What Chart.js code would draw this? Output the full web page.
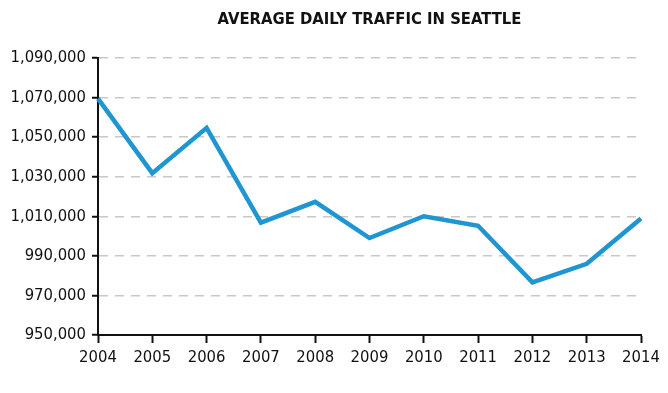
<!DOCTYPE html>
<html>
<head>
<meta charset="utf-8">
<script src="https://cdn.jsdelivr.net/npm/chart.js@4/dist/chart.umd.min.js"></script>
<style>
  html, body { margin: 0; padding: 0; background: #fff; }
  #wrap { width: 668px; height: 393px; position: relative; }
</style>
</head>
<body>
<div id="wrap"><canvas id="trafficChart"></canvas></div>
<script>
// chart data
var chartTitle = "AVERAGE DAILY TRAFFIC IN SEATTLE";
var years = ["2004", "2005", "2006", "2007", "2008", "2009", "2010", "2011", "2012", "2013", "2014"];
var dailyTraffic = [1069500, 1031800, 1054700, 1006800, 1017300, 999000, 1010000, 1005200, 976600, 986000, 1008900];
var yMin = 950000;
var yMax = 1090000;
var yStep = 20000;

var fontFamily = "'DejaVu Sans Condensed', 'Liberation Sans Narrow', 'DejaVu Sans', sans-serif";

//Title drawn centred over the plot area
var titlePlugin = {
  id: "plotTitle",
  afterDraw: function (chart) {
    var ctx = chart.ctx;
    var area = chart.chartArea;
    ctx.save();
    ctx.font = "bold 16.5px " + fontFamily;
    ctx.fillStyle = "#111";
    ctx.textAlign = "center";
    ctx.textBaseline = "middle";
    ctx.fillText(chartTitle, (area.left + area.right) / 2, 20);
    ctx.restore();
  }
};

new Chart(document.getElementById("trafficChart"), {
  type: "line",
  data: {
    labels: years,
    datasets: [{
      label: "Average daily traffic",
      data: dailyTraffic,
      borderColor: "#1f95d2",
      borderWidth: 4.5,
      pointRadius: 0,
      tension: 0,
      fill: false,
      clip: false
    }]
  },
  options: {
    responsive: true,
    maintainAspectRatio: false,
    animation: false,
    layout: {
      padding: { top: 58, right: 27, bottom: 0, left: 0 }
    },
    plugins: {
      legend: { display: false },
      tooltip: { enabled: false }
    },
    scales: {
      x: {
        grid: {
          drawOnChartArea: false,
          drawTicks: true,
          tickLength: 8,
          tickColor: "#111",
          tickWidth: 2
        },
        border: { color: "#111", width: 2 },
        ticks: {
          color: "#111",
          padding: 5,
          maxRotation: 0,
          font: { family: fontFamily, size: 16.5 }
        },
        afterFit: function (scale) {
          scale.height = 58;
        }
      },
      y: {
        min: yMin,
        max: yMax,
        grid: {
          color: "#c8c8c8",
          lineWidth: 1.5,
          drawTicks: true,
          tickLength: 6,
          tickColor: "#111",
          tickWidth: 2
        },
        border: { color: "#111", width: 2, dash: [9, 7] },
        ticks: {
          stepSize: yStep,
          color: "#111",
          padding: 6,
          font: { family: fontFamily, size: 16.5 },
          callback: function (value) {
            return value.toLocaleString("en-US");
          }
        },
        afterFit: function (scale) {
          scale.width = 98;
        }
      }
    }
  },
  plugins: [titlePlugin]
});
</script>
</body>
</html>
